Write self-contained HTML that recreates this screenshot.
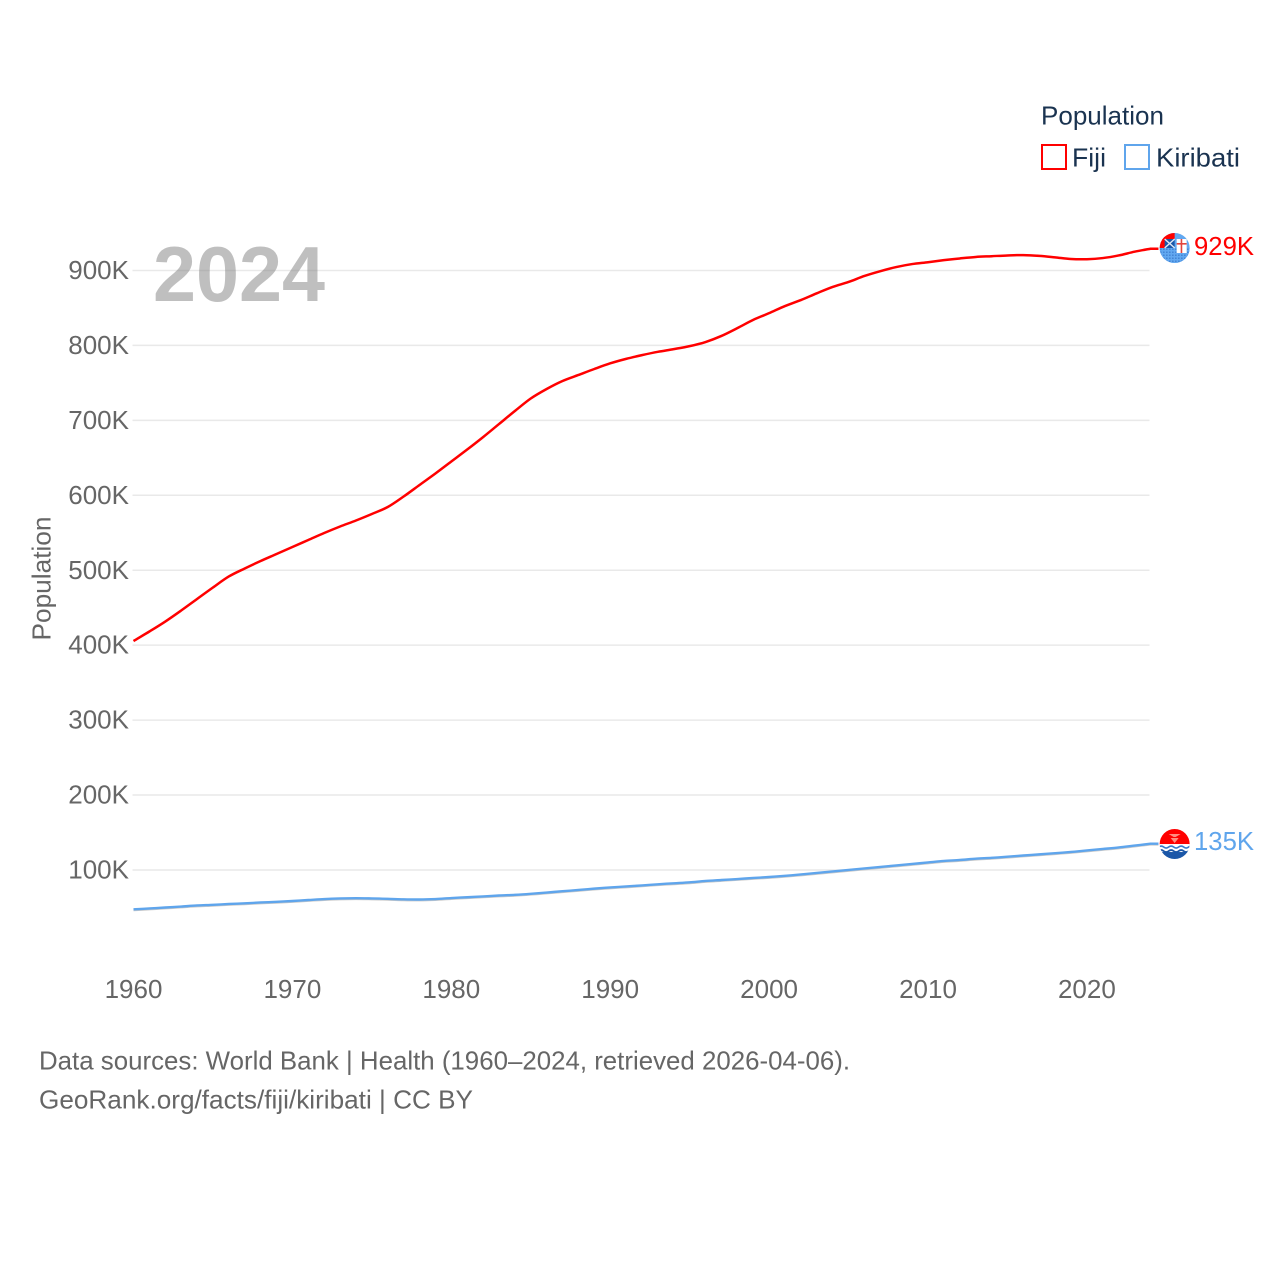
<!DOCTYPE html>
<html lang="en">
<head>
<meta charset="utf-8">
<title>Population: Fiji and Kiribati</title>
<style>
html,body{margin:0;padding:0;background:#fff;}
svg{display:block;}
text{font-family:"Liberation Sans",sans-serif;}
</style>
</head>
<body>
<svg id="chart" xmlns="http://www.w3.org/2000/svg" width="1280" height="1280" viewBox="0 0 1280 1280">
  <defs>
    <clipPath id="clip-fiji"><circle cx="0" cy="0" r="15"/></clipPath>
    <clipPath id="clip-kiribati"><circle cx="0" cy="0" r="15"/></clipPath>
    <pattern id="dots" width="3" height="3" patternUnits="userSpaceOnUse">
      <rect width="3" height="3" fill="#62a8f0"/>
      <rect x="0.6" y="0.6" width="1.2" height="1.2" fill="#2f6fc4"/>
    </pattern>
  </defs>
  <rect width="1280" height="1280" fill="#ffffff"/>
  <g id="grid"></g>
  <g id="series"></g>
  <g id="y-ticks"></g>
  <g id="x-ticks"></g>

  <text x="153" y="301" font-size="78" font-weight="700" fill="#808080" fill-opacity="0.5" textLength="172" lengthAdjust="spacingAndGlyphs">2024</text>
  <text transform="translate(50.5,640.5) rotate(-90)" font-size="26" fill="#666666" textLength="124" lengthAdjust="spacingAndGlyphs">Population</text>

  <g>
    <text x="1041" y="124.5" font-size="26" fill="#1a3350" textLength="123" lengthAdjust="spacingAndGlyphs">Population</text>
    <g>
      <rect x="1042" y="145" width="24" height="24" fill="none" stroke="#ff0000" stroke-width="2"/>
      <text x="1072" y="166.5" font-size="26" fill="#1a3350" textLength="34" lengthAdjust="spacingAndGlyphs">Fiji</text>
    </g>
    <g>
      <rect x="1125" y="145" width="24" height="24" fill="none" stroke="#5fa5ec" stroke-width="2"/>
      <text x="1156" y="166.5" font-size="26" fill="#1a3350" textLength="84" lengthAdjust="spacingAndGlyphs">Kiribati</text>
    </g>
  </g>

  <g id="flag-fiji">
    <g clip-path="url(#clip-fiji)">
      <rect x="-16" y="-16" width="32" height="32" fill="#62a8f0"/>
      <rect x="-16" y="0" width="32" height="16" fill="url(#dots)"/>
      <rect x="-16" y="-16" width="16" height="8" fill="#ff0000"/>
      <rect x="-16" y="-16" width="7" height="16" fill="#ff0000"/>
      <rect x="-10" y="-9" width="10" height="9" fill="#1b57a8"/>
      <path d="M-10 -9 L0 0 M0 -9 L-10 0" stroke="#dfe9f5" stroke-width="1.4" fill="none"/>
      <rect x="2" y="-9" width="10" height="14" fill="#ffffff"/>
      <rect x="6" y="-9" width="1.6" height="14" fill="#e2443c"/>
      <rect x="2" y="-5" width="10" height="1.6" fill="#e2443c"/>
    </g>
  </g>
  <g id="flag-kiribati">
    <g clip-path="url(#clip-kiribati)">
      <rect x="-16" y="-16" width="32" height="17" fill="#ff0000"/>
      <path d="M-4 -6 L4 -6 L0 -1 Z M-6 -10 L6 -10 L1 -7 L-1 -7 Z" fill="#ff8d80"/>
      <rect x="-16" y="0" width="32" height="17" fill="#ffffff"/>
      <rect x="-16" y="8" width="32" height="9" fill="#1b57a8"/>
      <path d="M-16 3 q2.5 -2 5 0 t5 0 t5 0 t5 0 t5 0 t5 0 t5 0" stroke="#3a78c8" stroke-width="1.6" fill="none"/>
      <path d="M-16 7 q2.5 -2 5 0 t5 0 t5 0 t5 0 t5 0 t5 0 t5 0" stroke="#1b57a8" stroke-width="1.8" fill="none"/>
    </g>
  </g>
  <text id="end-label-fiji" x="1194" font-size="26" fill="#ff0000" textLength="60" lengthAdjust="spacingAndGlyphs"></text>
  <text id="end-label-kiribati" x="1194" font-size="26" fill="#5fa5ec" textLength="60" lengthAdjust="spacingAndGlyphs"></text>

  <g>
    <text x="39" y="1069.5" font-size="26" fill="#666666" textLength="811" lengthAdjust="spacingAndGlyphs">Data sources: World Bank | Health (1960–2024, retrieved 2026-04-06).</text>
    <text x="39" y="1108.5" font-size="26" fill="#666666" textLength="434" lengthAdjust="spacingAndGlyphs">GeoRank.org/facts/fiji/kiribati | CC BY</text>
  </g>
</svg>
<script>
// Population in thousands, one value per year from 1960 to 2024.
const startYear = 1960;
const fijiValues = [405.5,418.2,431.5,446.2,461.6,476.9,491.6,502.3,512.3,521.6,531,540.3,549.6,558.3,566.3,575,584.3,598.3,613.7,629,645,661,677.6,695,712.4,729.1,741.8,752.5,760.5,768.5,776,782,787,791.4,795,799,804.5,812.6,823,834,843,852.5,860.5,869.5,878,884.6,892.6,899,904.5,908.5,911,913.7,916,918,919,920,920.5,919.5,917.5,915.3,915,916.5,920,925,929];
const kiribatiValues = [47.5,48.6,49.9,51.2,52.6,53.5,54.6,55.5,56.6,57.5,58.6,59.9,61.2,62,62.3,62,61.5,60.8,60.6,61.2,62.5,63.6,64.7,65.9,66.8,68.2,69.9,71.6,73.3,75.1,76.7,78,79.4,80.9,82.2,83.5,85.3,86.6,87.9,89.3,90.6,92.2,94,96,98,100,102,104,106,108,110,112,113.3,115,116.2,117.7,119.3,120.8,122.4,124,126,128,130,132.5,135];
const yTickValues = [100,200,300,400,500,600,700,800,900];
const yTickLabels = ['100K','200K','300K','400K','500K','600K','700K','800K','900K'];
const xTickYears = [1960,1970,1980,1990,2000,2010,2020];

const NS = 'http://www.w3.org/2000/svg';
function xScale(year) { return 133.5 + (year - 1960) * 15.89; }
function yScale(k) { return 944.9 - k * 0.7494; }
function make(tag, attrs, parent) {
  const el = document.createElementNS(NS, tag);
  for (const key in attrs) el.setAttribute(key, attrs[key]);
  parent.appendChild(el);
  return el;
}
// Smooth path through every yearly value, plus the short flat leader to the flag.
function linePath(values, dy) {
  const p = values.map((v, i) => [xScale(startYear + i), yScale(v) + dy]);
  let d = 'M' + p[0][0].toFixed(2) + ' ' + p[0][1].toFixed(2);
  for (let i = 0; i < p.length - 1; i++) {
    const a = p[Math.max(i - 1, 0)], b = p[i], c = p[i + 1], e = p[Math.min(i + 2, p.length - 1)];
    const c1x = b[0] + (c[0] - a[0]) / 6, c1y = b[1] + (c[1] - a[1]) / 6;
    const c2x = c[0] - (e[0] - b[0]) / 6, c2y = c[1] - (e[1] - b[1]) / 6;
    d += 'C' + c1x.toFixed(2) + ' ' + c1y.toFixed(2) + ' ' + c2x.toFixed(2) + ' ' + c2y.toFixed(2) + ' ' + c[0].toFixed(2) + ' ' + c[1].toFixed(2);
  }
  const end = p[p.length - 1];
  d += 'L' + (end[0] + 8).toFixed(2) + ' ' + end[1].toFixed(2);
  return d;
}

const grid = document.getElementById('grid');
const yTicksGroup = document.getElementById('y-ticks');
yTickValues.forEach((v, i) => {
  const gridLine = make('line', {x1: 132.5, x2: 1149.5, y1: yScale(v), y2: yScale(v), stroke: '#e9e9e9', 'stroke-width': 1.5}, grid);
  
  
  const label = make('text', {x: 129, y: yScale(v) + 8.6, 'text-anchor': 'end', 'font-size': 26, fill: '#666666'}, yTicksGroup);
  label.textContent = yTickLabels[i];
  
  
});

const xTicksGroup = document.getElementById('x-ticks');
xTickYears.forEach((year) => {
  const label = make('text', {x: xScale(year), y: 998, 'text-anchor': 'middle', 'font-size': 26, fill: '#666666'}, xTicksGroup);
  label.textContent = String(year);
  
  
});

const seriesGroup = document.getElementById('series');
const kiribatiShadow = make('path', {d: linePath(kiribatiValues, 0.8), fill: 'none', stroke: '#c9c9c9', 'stroke-width': 2.2}, seriesGroup);


const kiribatiLine = make('path', {d: linePath(kiribatiValues, 0), fill: 'none', stroke: '#5fa5ec', 'stroke-width': 2.4, 'stroke-linejoin': 'round'}, seriesGroup);


const fijiLine = make('path', {d: linePath(fijiValues, 0), fill: 'none', stroke: '#ff0000', 'stroke-width': 2.5, 'stroke-linejoin': 'round'}, seriesGroup);



function placeEnd(name, values) {
  const lastValue = values[values.length - 1];
  const yPos = yScale(lastValue);
  const xPos = xScale(startYear + values.length - 1) + 24.2;
  document.getElementById('flag-' + name).setAttribute('transform', 'translate(' + xPos + ',' + (yPos + (name === 'fiji' ? -0.7 : 0.3)) + ')');
  const label = document.getElementById('end-label-' + name);
  label.setAttribute('y', yPos + 6.5);
  label.textContent = Math.round(lastValue) + 'K';
}
placeEnd('fiji', fijiValues);
placeEnd('kiribati', kiribatiValues);
</script>
</body>
</html>
